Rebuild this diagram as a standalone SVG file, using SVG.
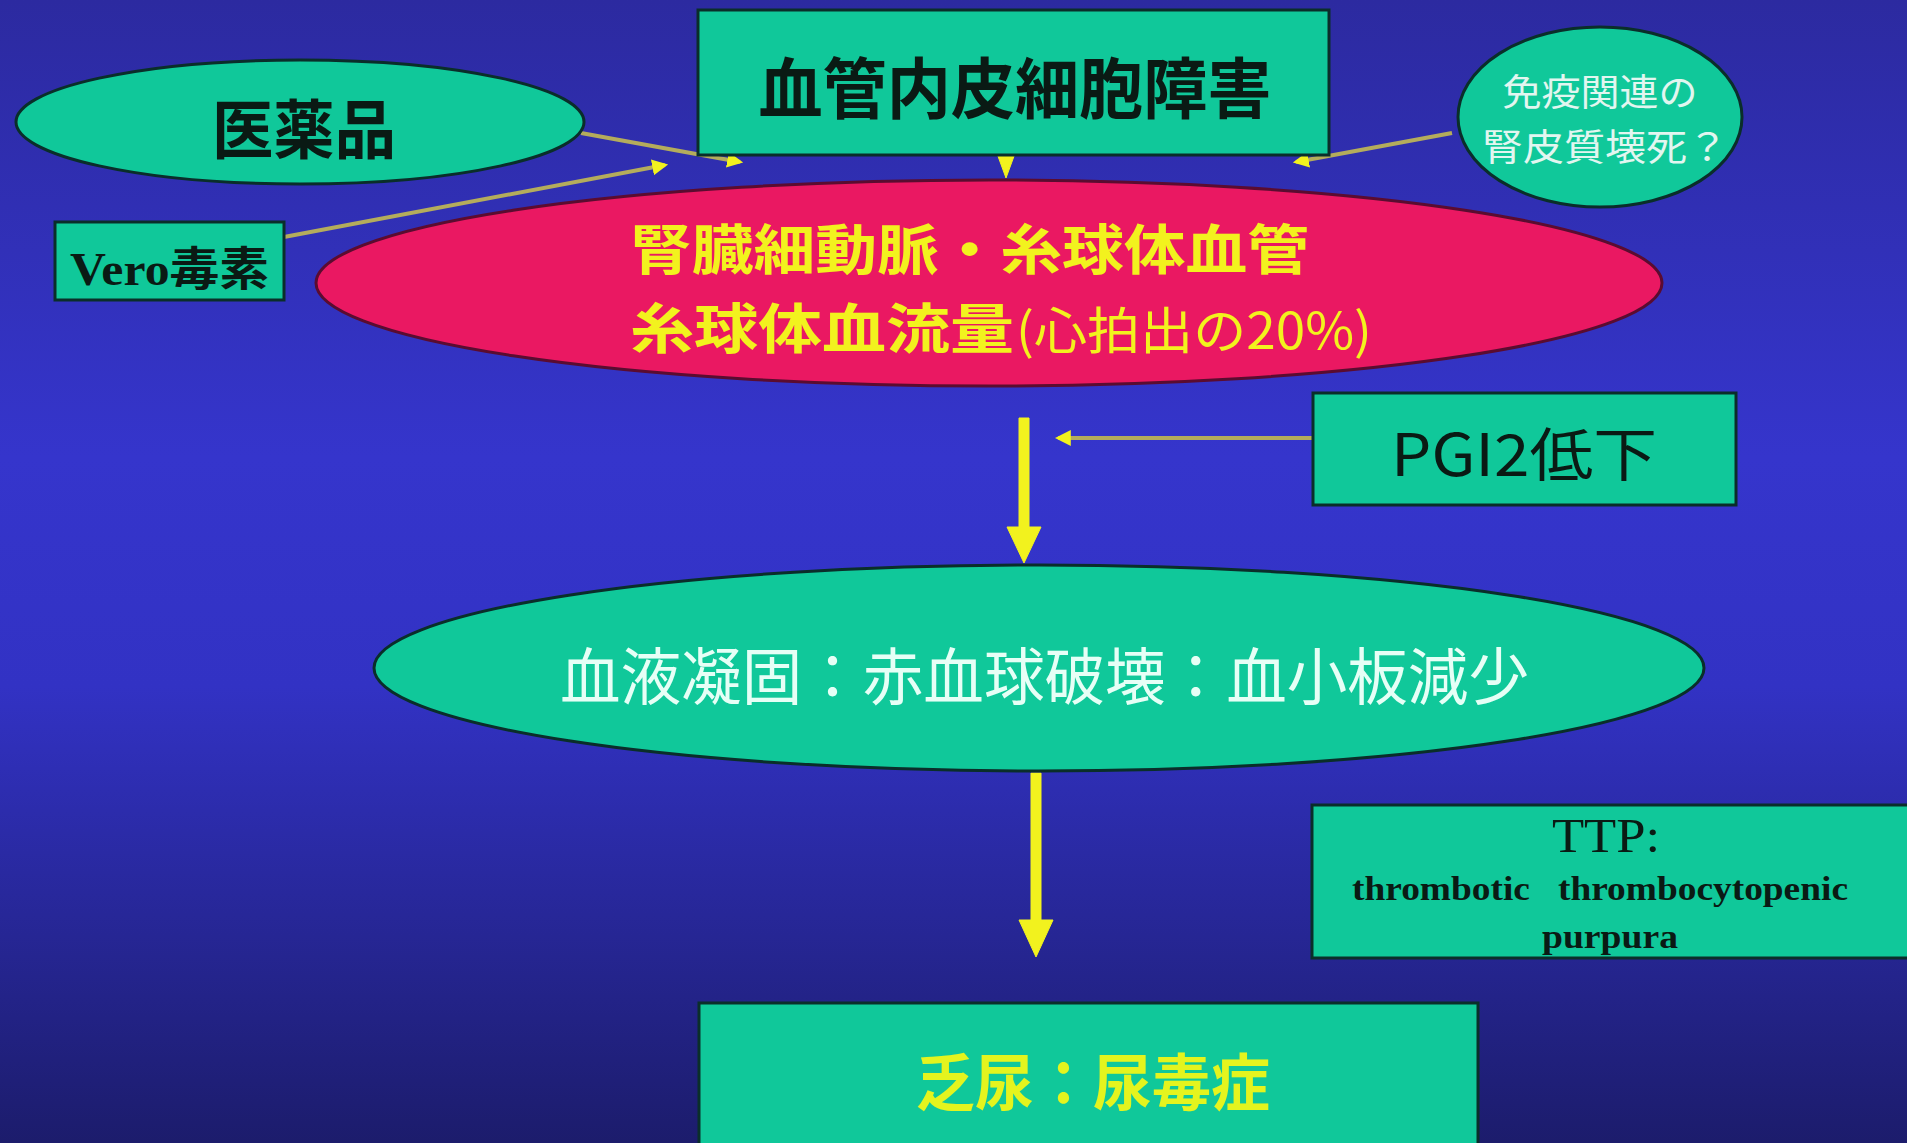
<svg xmlns="http://www.w3.org/2000/svg" width="1907" height="1143" viewBox="0 0 1907 1143">
<style>
.node{fill:#10c89a;stroke:#0a2e2a;stroke-width:3}
.cjk{font-family:"Noto Sans CJK JP","Noto Sans CJK SC",sans-serif}
.blk{fill:#0a1a14}
.thin{stroke:#b4ac5c;stroke-width:4;fill:none}
.thick{stroke:#f2f21e;fill:#f2f21e}
</style>
<defs>
<linearGradient id="bg" x1="0" y1="0" x2="0" y2="1">
<stop offset="0" stop-color="#2c2aa0"/>
<stop offset="0.4" stop-color="#3535cc"/>
<stop offset="0.6" stop-color="#3232c4"/>
<stop offset="1" stop-color="#1c1c6c"/>
</linearGradient>
<marker id="sm" viewBox="0 0 10 10" refX="8" refY="5" markerWidth="4" markerHeight="4" orient="auto">
<path d="M0,0 L10,5 L0,10 z" fill="#f2f21e"/>
</marker>
</defs>
<rect x="0" y="0" width="1907" height="1143" fill="url(#bg)"/>

<g id="connectors">
<line class="thin" x1="581" y1="133" x2="740" y2="162" marker-end="url(#sm)"/>
<line class="thin" x1="284" y1="237" x2="665" y2="165" marker-end="url(#sm)"/>
<line class="thin" x1="1452" y1="133" x2="1296" y2="162" marker-end="url(#sm)"/>
<line class="thin" x1="1313" y1="438" x2="1058" y2="438" marker-end="url(#sm)"/>
<path class="thick" d="M1001,133 L1011,133 L1011,148 L1017,148 L1006,178 L995,148 L1001,148 z"/>
<path class="thick" d="M1019,418 L1029,418 L1029,527 L1041,527 L1024,563 L1007,527 L1019,527 z"/>
<path class="thick" d="M1031,773 L1041,773 L1041,920 L1053,920 L1036,957 L1019,920 L1031,920 z"/>
</g>

<g id="n_drug">
<ellipse class="node" cx="300" cy="122" rx="284" ry="62"/>
<text class="cjk blk" x="304" y="153" font-size="64" font-weight="bold" text-anchor="middle" textLength="184" lengthAdjust="spacingAndGlyphs">医薬品</text>
</g>

<g id="n_endothelium">
<rect class="node" x="698" y="10" width="631" height="145"/>
<text class="cjk blk" x="1015" y="113" font-size="66" font-weight="bold" text-anchor="middle" textLength="513" lengthAdjust="spacingAndGlyphs">血管内皮細胞障害</text>
</g>

<g id="n_immune">
<ellipse class="node" cx="1600" cy="117" rx="142" ry="90"/>
<text class="cjk" fill="#e2f6f0" x="1600" y="106" font-size="37" text-anchor="middle" textLength="195" lengthAdjust="spacingAndGlyphs">免疫関連の</text>
<text class="cjk" fill="#e2f6f0" x="1605" y="161" font-size="37" text-anchor="middle" textLength="246" lengthAdjust="spacingAndGlyphs">腎皮質壊死？</text>
</g>

<g id="n_vero">
<rect class="node" x="55" y="222" width="229" height="78"/>
<text x="70" y="285" font-size="46" font-weight="bold" class="blk" font-family="'Liberation Serif','Noto Sans CJK JP',serif" textLength="199" lengthAdjust="spacingAndGlyphs">Vero毒素</text>
</g>

<g id="n_renal">
<ellipse cx="989" cy="283" rx="673" ry="103" fill="#ea1862" stroke="#5a0c30" stroke-width="3"/>
<text class="cjk" fill="#f2f21e" x="630" y="270" font-size="54" font-weight="bold" textLength="679" lengthAdjust="spacingAndGlyphs">腎臓細動脈・糸球体血管</text>
<text class="cjk" fill="#f2f21e" x="630" y="349" font-size="54" font-weight="bold" textLength="384" lengthAdjust="spacingAndGlyphs">糸球体血流量</text>
<text class="cjk" fill="#f2f21e" x="1016" y="349" font-size="50" textLength="356" lengthAdjust="spacingAndGlyphs">(心拍出の20%)</text>
</g>

<g id="n_pgi2">
<rect class="node" x="1313" y="393" width="423" height="112"/>
<text class="cjk blk" x="1524" y="476" font-size="58" text-anchor="middle" textLength="266" lengthAdjust="spacingAndGlyphs">PGI2低下</text>
</g>

<g id="n_blood">
<ellipse class="node" cx="1039" cy="668" rx="665" ry="103"/>
<text class="cjk" fill="#e6fff6" x="560" y="700" font-size="62" textLength="969" lengthAdjust="spacingAndGlyphs">血液凝固：赤血球破壊：血小板減少</text>
</g>

<g id="n_ttp">
<rect class="node" x="1312" y="805" width="600" height="153"/>
<text x="1606" y="852" font-size="48" class="blk" font-family="'Liberation Serif',serif" text-anchor="middle" textLength="108" lengthAdjust="spacingAndGlyphs">TTP:</text>
<text x="1352" y="900" font-size="34" font-weight="bold" class="blk" font-family="'Liberation Serif',serif" textLength="496" lengthAdjust="spacingAndGlyphs" xml:space="preserve">thrombotic   thrombocytopenic</text>
<text x="1610" y="948" font-size="34" font-weight="bold" class="blk" font-family="'Liberation Serif',serif" text-anchor="middle" textLength="136" lengthAdjust="spacingAndGlyphs">purpura</text>
</g>

<g id="n_uremia">
<rect class="node" x="699" y="1003" width="779" height="150"/>
<text class="cjk" fill="#e4f41e" x="916" y="1106" font-size="62" font-weight="bold" textLength="354" lengthAdjust="spacingAndGlyphs">乏尿：尿毒症</text>
</g>
</svg>
